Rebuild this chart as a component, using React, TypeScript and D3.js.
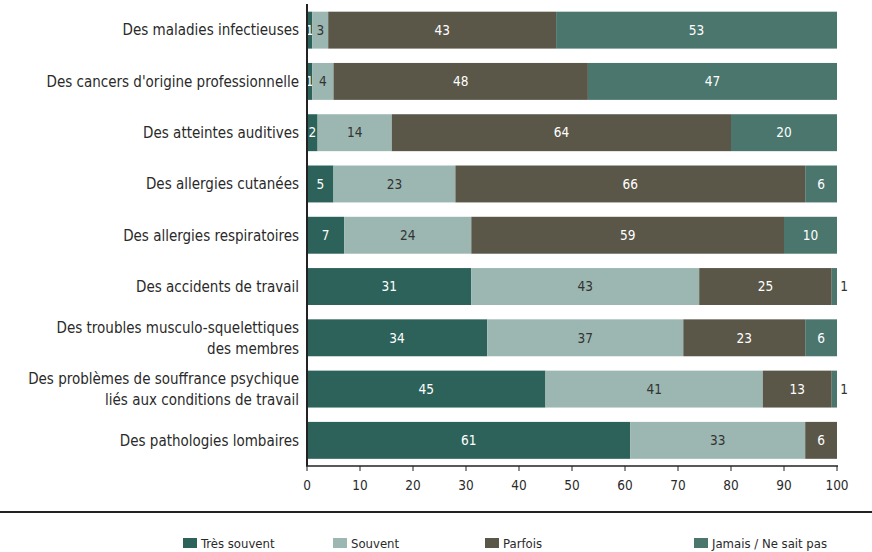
import React from "react";
import * as d3 from "d3";

const categories = [
  ["Des maladies infectieuses"],
  ["Des cancers d'origine professionnelle"],
  ["Des atteintes auditives"],
  ["Des allergies cutanées"],
  ["Des allergies respiratoires"],
  ["Des accidents de travail"],
  ["Des troubles musculo-squelettiques", "des membres"],
  ["Des problèmes de souffrance psychique", "liés aux conditions de travail"],
  ["Des pathologies lombaires"],
];
const seriesNames = ["Très souvent", "Souvent", "Parfois", "Jamais / Ne sait pas"];
const tresSouvent = [1, 1, 2, 5, 7, 31, 34, 45, 61];
const souvent = [3, 4, 14, 23, 24, 43, 37, 41, 33];
const parfois = [43, 48, 64, 66, 59, 25, 23, 13, 6];
const jamais = [53, 47, 20, 6, 10, 1, 6, 1, 0];
const xTicks = [0, 10, 20, 30, 40, 50, 60, 70, 80, 90, 100];

const colors = ["#2c6259", "#9cb7b1", "#5a5749", "#4a766e"];
const textColors = ["#ffffff", "#333333", "#ffffff", "#ffffff"];
const FONT = "'DejaVu Sans', sans-serif";

export default function App() {
  const W = 872, H = 552;
  const x = d3.scaleLinear().domain([0, 100]).range([307, 837]);
  const y = d3.scaleBand<number>().domain(d3.range(categories.length)).range([4.5, 466]).paddingInner(0.28).paddingOuter(0.14);
  const series = [tresSouvent, souvent, parfois, jamais];
  const rows = categories.map((c, i) => ({ i, v: series.map((s) => s[i]) }));
  const stack = d3.stack<any>().keys(["0", "1", "2", "3"]).value((d: any, k: string) => d.v[+k]);
  const stacked = stack(rows as any);
  const bh = y.bandwidth();
  const legendX = [183, 333, 485, 694];

  return (
    <svg width={W} height={H} style={{ position: "absolute", left: 0, top: 0, fontFamily: FONT, fontStretch: "condensed" }}>
      <rect width={W} height={H} fill="#fff" />
      {stacked.map((layer, si) =>
        layer.map((d: any, ri: number) => {
          const v = d[1] - d[0];
          if (v <= 0) return null;
          const x0 = x(d[0]), x1 = x(d[1]);
          const cy = (y(ri) as number) + bh / 2;
          const outside = si === 3 && v <= 1;
          return (
            <g key={si + "-" + ri}>
              <rect x={x0} y={y(ri)} width={x1 - x0} height={bh} fill={colors[si]} />
              <text
                x={outside ? x1 + 7 : (x0 + x1) / 2}
                y={cy}
                dy="0.35em"
                textAnchor="middle"
                fontSize={13.5}
                fill={outside ? "#333" : textColors[si]}
              >
                {v}
              </text>
            </g>
          );
        })
      )}
      {categories.map((lines, i) => {
        const cy = (y(i) as number) + bh / 2;
        const lh = 21;
        return (
          <text key={i} x={299} textAnchor="end" fontSize={15} fill="#2a2a2a">
            {lines.map((l, j) => (
              <tspan key={j} x={299} y={cy + (j - (lines.length - 1) / 2) * lh} dy="0.35em">
                {l}
              </tspan>
            ))}
          </text>
        );
      })}
      <line x1={307} x2={307} y1={4} y2={466} stroke="#222" strokeWidth={2} />
      <line x1={306} x2={838} y1={466} y2={466} stroke="#222" strokeWidth={1.5} />
      {xTicks.map((t) => (
        <g key={t}>
          <line x1={x(t)} x2={x(t)} y1={466} y2={471} stroke="#222" strokeWidth={1} />
          <text x={x(t)} y={485} dy="0.35em" textAnchor="middle" fontSize={13.5} fill="#2a2a2a">
            {t}
          </text>
        </g>
      ))}
      <line x1={0} x2={872} y1={512} y2={512} stroke="#222" strokeWidth={2} />
      {seriesNames.map((n, i) => (
        <g key={n}>
          <rect x={legendX[i]} y={538} width={14} height={10} fill={colors[i]} />
          <text x={legendX[i] + 18} y={543} dy="0.35em" fontSize={13} fill="#2a2a2a">
            {n}
          </text>
        </g>
      ))}
    </svg>
  );
}
